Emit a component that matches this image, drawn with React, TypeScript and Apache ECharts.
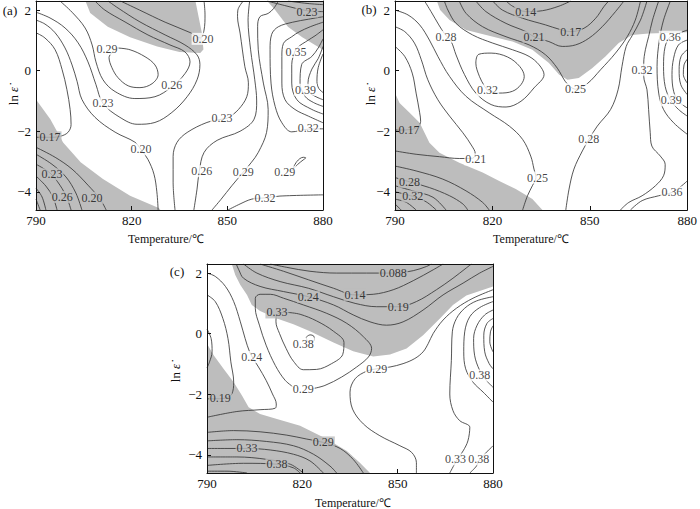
import React, { useEffect, useRef } from "react";
import * as echarts from "echarts";

type Pt = [number, number];
type Lab = [number, number, string];

const T_RANGE: Pt = [790, 880];
const L_RANGE: Pt = [-4.6, 2.3];
const X_TICKS = [790, 820, 850, 880];
const Y_TICKS = [-4, -2, 0, 2];
const X_TITLE = "Temperature/℃";
const Y_TITLE = "ln {e|\u03b5\u0307}";

// ---------- panel (a) ----------
const shadeA: Pt[][] = [
  [[805.5,2.3],[807,1.9],[812.5,1.45],[819.5,1.1],[828,0.8],[835,0.62],[841.5,0.58],[842.5,0.7],[842,1.25],[841,1.77],[840,2.3]],
  [[862.5,2.3],[865,2.0],[869,1.45],[873.5,1.1],[877.5,0.85],[880,0.69],[880,2.3]],
  [[790,-0.95],[794.5,-1.6],[798.5,-2.37],[804,-3.02],[811,-3.58],[819.5,-4.13],[828.5,-4.53],[829,-4.6],[790,-4.6]],
];
const linesA: Pt[][] = [
  [[816.5,2.3],[822.5,2.0],[830.5,1.6],[838.5,1.25],[841.5,1.08],[842.7,1.34],[843,1.84],[842.7,2.3]],
  [[790,1.93],[794.4,1.74],[799.1,1.41],[803.2,0.92],[806.3,0.29],[808.8,-0.46],[811,-1.08],[816.3,-1.54],[821.7,-1.77],[827.3,-1.71],[832.6,-1.38],[837.4,-0.86],[840.5,-0.3],[841.4,0.2],[840.5,0.52],[836.7,0.85],[830.5,1.18],[822.6,1.61],[815.7,2.07],[812.6,2.3]],
  [[797.5,2.3],[801.3,1.93],[805.4,1.41],[807.6,0.85],[808.8,0.29],[811,-0.3],[814.8,-0.69],[821,-0.92],[827.3,-0.86],[832.6,-0.53],[836.7,-0.1],[838.3,0.29],[836.7,0.62],[832,0.85],[825.1,1.18],[817.9,1.61],[811.6,2.0],[808.5,2.3]],
  [[815.4,0.75],[819.5,0.69],[824.2,0.46],[827.3,0.19],[828.3,-0.13],[826.4,-0.43],[822.6,-0.56],[818.9,-0.5],[815.7,-0.23],[813.8,0.1],[812.9,0.43],[815.4,0.75]],
  [[790,1.67],[792.8,1.54],[796,1.25],[799.1,0.75],[801.3,0.19],[802.9,-0.36],[804.4,-0.95],[808.5,-1.54],[814.8,-2.03],[821,-2.36],[822.9,-2.6],[825.1,-2.93],[827,-3.42],[827.9,-4.0],[828.3,-4.6]],
  [[790,1.25],[792.8,1.08],[796,0.69],[798.2,0.03],[799.7,-0.63],[800.7,-1.28],[801,-1.78],[800,-2.04],[797.5,-2.17],[794.4,-2.2],[791.3,-2.2],[790,-2.2]],
  [[790,-2.53],[796,-2.86],[801.3,-3.25],[806.3,-3.78],[810.1,-4.24],[812,-4.6]],
  [[790,-2.76],[795,-3.09],[799.4,-3.51],[802.5,-4.04],[804.4,-4.6]],
  [[790,-3.09],[794.4,-3.38],[797.5,-3.78],[799.7,-4.2],[801,-4.6]],
  [[790,-3.48],[793.1,-3.81],[795.3,-4.17],[796.6,-4.6]],
  [[790,-3.88],[791.9,-4.17],[793.1,-4.6]],
  [[790,-4.24],[791.3,-4.6]],
  [[855,2.3],[853.3,2.0],[853.2,1.78],[854,1.24],[855.5,0.13],[856.6,-0.4],[856.1,-0.86],[853.5,-1.28],[850.3,-1.55],[848.3,-1.6],[843.6,-1.71],[837.4,-2.04],[834.2,-2.37],[833,-2.83],[833,-3.68],[833.6,-4.6]],
  [[857,2.3],[856.5,1.67],[857.3,0.69],[858.6,-0.3],[859.2,-1.0],[858.4,-1.6],[854,-2.0],[846.8,-2.3],[842.7,-2.7],[841.2,-3.32],[840.5,-3.91],[839.5,-4.6]],
  [[866,2.3],[864.5,2.05],[862.8,1.89],[860.2,1.78],[859.5,1.45],[859.7,0.69],[861.3,-0.41],[862.8,-1.28],[862.3,-2.04],[859.7,-2.7],[857.6,-3.02],[855,-3.35],[851.4,-3.8],[848,-4.25],[845.2,-4.6]],
  [[880,1.78],[875.5,1.7],[870.5,1.6],[866,1.45],[863.9,1.2],[863.4,0.69],[863.7,-0.41],[865,-1.18],[867.1,-1.72],[870.2,-2.02],[875.4,-1.93],[880,-1.92]],
  [[880,1.6],[876,1.45],[872.5,1.28],[870.2,1.12],[867.6,0.9],[867.1,0.47],[867.1,-0.41],[868.1,-0.96],[871.2,-1.28],[875.4,-1.5],[880,-1.72]],
  [[880,1.35],[877.5,1.15],[875.4,1.01],[871.8,0.74],[870.6,0.45],[870.2,0.2],[870.2,-0.41],[871.8,-0.96],[876.5,-1.28],[880,-1.43]],
  [[880,1.05],[878.5,0.75],[876.5,0.47],[873.3,0.2],[872.8,-0.41],[874.4,-0.85],[877,-1.05],[880,-1.18]],
  [[880,0.8],[878.5,0.4],[876.5,0.05],[875.3,-0.4],[875.8,-0.72],[877.8,-0.86],[880,-0.96]],
  [[880,0.55],[878.5,0.1],[878.1,-0.36],[878.7,-0.59],[880,-0.72]],
  [[862.5,2.3],[868,2.15],[875,1.98],[880,1.95]],
  [[869,2.3],[875,2.22],[880,2.18]],
  [[850.2,-4.6],[854,-4.4],[857.7,-4.24],[861.8,-4.2],[866.5,-4.14],[880,-4.1]],
  [[870.3,-3.3],[872,-3.1],[874,-2.93],[874.6,-2.88],[873.8,-2.86],[871.8,-3.0],[870.3,-3.3]],
];
const labelsA: Lab[] = [
  [842.4,1.05,"0.20"],[811,-1.08,"0.23"],[832.6,-0.46,"0.26"],[812.3,0.72,"0.29"],
  [822.9,-2.6,"0.20"],[794.4,-2.2,"0.17"],[795,-3.42,"0.23"],[798.2,-4.17,"0.26"],
  [807.6,-4.2,"0.20"],[848.3,-1.55,"0.23"],[842,-3.32,"0.26"],[855,-3.35,"0.29"],
  [868,-3.35,"0.29"],[861.8,-4.2,"0.32"],[875.4,-1.9,"0.32"],[871.5,0.62,"0.35"],
  [874.5,-0.63,"0.39"],[875,1.95,"0.23"],
];

// ---------- panel (b) ----------
const shadeB: Pt[][] = [
  [[802.9,2.3],[803.9,2.0],[806.8,1.67],[811.9,1.34],[819,1.15],[826.2,0.96],[832.3,0.69],[837.4,0.25],[840.5,-0.13],[843.1,-0.3],[846.6,-0.24],[850.7,0.08],[854.8,0.47],[858.9,0.91],[863,1.18],[868.1,1.23],[880,1.27],[880,2.3]],
  [[790,-0.74],[791.4,-1.07],[794.5,-1.39],[797.6,-1.72],[799.1,-2.05],[800.6,-2.38],[803.7,-2.71],[809.8,-3.04],[817,-3.36],[822.1,-3.64],[827.2,-3.91],[832.3,-4.24],[835.4,-4.6],[790,-4.6]],
];
const linesB: Pt[][] = [
  [[790,0.8],[793,0.47],[795.3,-0.08],[796.5,-0.74],[797.6,-1.39],[797.9,-1.67],[797.1,-1.85],[795,-1.94],[791.4,-1.96],[790,-1.96]],
  [[790,1.45],[793,1.29],[796,0.91],[798.1,0.36],[800.1,-0.3],[803.2,-0.96],[806.8,-1.5],[810.9,-2.05],[813.7,-2.49],[814.7,-2.73],[813.9,-2.89],[809.8,-2.9],[803.7,-2.84],[796.5,-2.76],[790,-2.65]],
  [[790,2.0],[794,1.84],[797.6,1.51],[800.6,1.01],[803.2,0.47],[806.8,-0.19],[811.9,-0.85],[819,-1.39],[825.2,-1.83],[829.3,-2.27],[831.8,-2.82],[832.8,-3.25],[833.4,-3.53],[832.3,-3.8],[830.8,-4.13],[829.3,-4.6]],
  [[799.1,2.3],[801.1,1.95],[803.5,1.51],[805.2,1.23],[807.3,0.96],[808.8,0.52],[811.4,-0.13],[814.9,-0.74],[819.6,-1.12],[824.2,-1.2],[828.8,-1.01],[832.8,-0.57],[835.9,-0.13],[834.4,0.19],[831.3,0.47],[826.2,0.69],[820.1,0.91],[813.9,1.18],[808.8,1.56],[806.3,2.0],[805.2,2.3]],
  [[818.5,-0.65],[822.1,-0.74],[826.2,-0.68],[828.8,-0.46],[829.8,-0.19],[828.4,0.14],[824.7,0.45],[819.6,0.58],[815.8,0.54],[814.9,0.25],[816,-0.19],[817.5,-0.5],[818.5,-0.65]],
  [[809.8,2.3],[811.9,1.89],[817,1.45],[824.2,1.12],[831.3,0.85],[836.4,0.52],[840,0.08],[842.4,-0.35],[844.1,-0.54],[845.6,-0.61],[849.2,-0.43],[853.3,0.03],[857.9,0.58],[861.5,1.12],[864,1.67],[865.6,2.3]],
  [[814.9,2.3],[818,1.95],[824.2,1.56],[830.3,1.29],[832.8,1.12],[837.4,0.96],[841.5,0.8],[845.6,0.85],[849.7,1.07],[853.8,1.45],[857.9,1.95],[860.5,2.3]],
  [[820.1,2.3],[823.1,2.0],[829.3,1.73],[836.4,1.51],[840.5,1.37],[844.1,1.29],[848.2,1.4],[851.8,1.73],[854.3,2.11],[855.8,2.3]],
  [[824.2,2.3],[826.2,2.13],[830.3,1.95],[835.4,1.98],[840.5,2.13],[844.1,2.3]],
  [[842.6,-4.6],[843.6,-3.91],[845.1,-3.25],[847.7,-2.65],[849.7,-2.27],[852.3,-1.83],[856.4,-1.28],[858.7,-0.63],[859.9,0.14],[861.2,0.8],[863,1.15],[865.6,1.67],[867.6,2.3]],
  [[871.2,2.3],[869.3,1.67],[868.1,1.12],[867.1,0.69],[866.6,0.25],[866.6,-0.19],[867.6,-0.63],[868.1,-1.28],[868.6,-2.05],[869.1,-2.49],[871.7,-2.82],[873.2,-3.09],[872.7,-3.47],[870.2,-3.8],[866.1,-4.13],[862,-4.35],[859.4,-4.6]],
  [[874.8,2.3],[872.7,1.67],[871.4,1.01],[870.7,0.14],[871.2,-0.74],[872.7,-1.28],[875.8,-1.72],[880,-2.1]],
  [[880,1.34],[877.3,1.23],[874.8,1.12],[873.2,0.8],[872.7,0.14],[873.2,-0.52],[874.8,-0.96],[877.3,-1.28],[880,-1.5]],
  [[880,1.01],[877.3,0.85],[875.8,0.41],[875.3,-0.13],[875.8,-0.68],[877.3,-1.01],[880,-1.23]],
  [[880,0.69],[878.1,0.47],[877.5,0.03],[878,-0.46],[880,-0.79]],
  [[880,0.38],[879,0.19],[878.8,-0.13],[880,-0.41]],
  [[862.5,-4.6],[866.1,-4.29],[871.2,-4.13],[875.3,-4.02],[878.3,-3.8],[880,-3.64]],
  [[790,-3.15],[796.5,-3.31],[804.7,-3.58],[811.9,-3.97],[817,-4.35],[819,-4.6]],
  [[790,-3.53],[794.5,-3.67],[800.6,-3.86],[806.8,-4.13],[810.9,-4.4],[812.4,-4.6]],
  [[790,-3.8],[795.5,-3.97],[801.7,-4.18],[805.7,-4.6]],
  [[790,-4.0],[795.5,-4.15],[799.6,-4.33],[802.7,-4.6]],
  [[790,-4.24],[793.5,-4.35],[796.5,-4.6]],
  [[790,-4.4],[791.9,-4.6]],
];
const labelsB: Lab[] = [
  [794.3,-1.96,"0.17"],[814.9,-2.93,"0.21"],[833.9,-3.53,"0.25"],[805.7,1.12,"0.28"],
  [818.5,-0.65,"0.32"],[845.6,-0.61,"0.25"],[832.8,1.12,"0.21"],[844.1,1.29,"0.17"],
  [830.3,1.95,"0.14"],[849.7,-2.27,"0.28"],[866.1,0.03,"0.32"],[874.8,1.12,"0.36"],
  [875.1,-0.98,"0.39"],[875.3,-4.02,"0.36"],[794.5,-3.67,"0.28"],[795.5,-4.15,"0.32"],
];

// ---------- panel (c) ----------
const shadeC: Pt[][] = [
  [[797.8,2.3],[798.9,1.94],[800.5,1.61],[802.6,1.28],[804.1,0.95],[806.7,0.75],[812,0.5],[817.2,0.31],[822.4,0.08],[829.8,-0.29],[836,-0.58],[842.3,-0.75],[847.6,-0.69],[852.8,-0.49],[858,-0.05],[863.3,0.5],[867.4,0.95],[871.6,1.26],[875.8,1.41],[880,1.56],[880,2.3]],
  [[790,-0.33],[792.1,-0.71],[795.2,-1.16],[798.4,-1.6],[801,-2.04],[803.1,-2.43],[806.7,-2.65],[812,-2.82],[819.3,-3.04],[827.7,-3.48],[834,-3.87],[838.1,-4.26],[841.3,-4.6],[790,-4.6]],
];
const linesC: Pt[][] = [
  [[809.9,2.3],[815.1,2.19],[822.4,2.06],[830.8,2.0],[840.2,2.0],[848.6,2.0],[854.9,2.08],[859.1,2.22],[860.6,2.3]],
  [[806.7,2.3],[814.1,2.06],[821.9,1.78],[829.8,1.5],[836.6,1.28],[842.3,1.3],[848.6,1.45],[854.9,1.75],[861.2,2.11],[864.3,2.3]],
  [[801.5,2.3],[805.7,2.0],[813,1.72],[821.9,1.5],[829.8,1.22],[836.6,1.0],[843.4,0.89],[850.2,0.89],[855.9,1.06],[862.2,1.45],[867.4,1.83],[871.6,2.17],[873.2,2.3]],
  [[799.2,2.3],[800,2.11],[801.5,1.83],[806.7,1.56],[814.1,1.39],[821.9,1.22],[829.8,0.95],[836,0.62],[841.3,0.39],[846.5,0.28],[851.7,0.39],[858,0.78],[864.3,1.28],[870.6,1.67],[875.8,2.0],[880,2.22]],
  [[817.7,-1.8],[814.6,-1.54],[811.5,-1.05],[808.6,-0.38],[806.5,0.28],[805.2,0.84],[805.2,1.17],[806.7,1.3],[809.9,1.3],[814.1,1.17],[820.3,0.95],[827.7,0.67],[834,0.34],[839.2,-0.1],[841.8,-0.49],[840.8,-0.77],[837.1,-1.1],[832.4,-1.43],[827.1,-1.71],[823,-1.82]],
  [[815.6,0.7],[819.3,0.64],[824.5,0.42],[829.8,0.08],[833.1,-0.29],[832.7,-0.69],[829.2,-0.99],[824.5,-1.18],[820.3,-1.19],[817.2,-0.91],[814.9,-0.49],[812.8,0.01],[811.7,0.39],[812,0.62],[813.5,0.7],[815.6,0.7]],
  [[821.2,-0.12],[822.4,-0.04],[823.6,-0.08],[823.8,-0.19],[823,-0.27],[821.7,-0.25],[821.2,-0.12]],
  [[855.9,-4.6],[855.9,-4.26],[854.4,-3.92],[850.7,-3.7],[844.4,-3.37],[839.2,-2.98],[835.8,-2.49],[835,-1.93],[836.6,-1.49],[840.2,-1.24],[843.4,-1.16],[847.6,-1.1],[851.7,-0.99],[855.4,-0.82],[858,-0.6],[859.6,-0.33],[861.2,0.01],[864.3,0.45],[868.5,0.84],[873.7,1.17],[880,1.45]],
  [[880,1.22],[874.8,1.08],[871.1,0.84],[868.5,0.5],[867.2,0.06],[866.9,-0.88],[866.4,-1.99],[867.4,-2.54],[869.5,-2.87],[872.7,-3.09],[872.1,-3.54],[870.6,-3.87],[868.5,-4.2],[866.4,-4.6]],
  [[880,1.06],[875.8,0.86],[872.7,0.56],[871.1,0.06],[870.8,-0.6],[871.4,-1.16],[873.7,-1.6],[876.9,-1.93],[880,-2.26]],
  [[880,0.78],[877.4,0.62],[875,0.28],[873.9,-0.16],[874.2,-0.71],[875.8,-1.21],[877.9,-1.54],[880,-1.77]],
  [[880,0.5],[878.1,0.34],[877.1,-0.05],[877.4,-0.6],[878.8,-0.99],[880,-1.16]],
  [[880,0.26],[879.2,0.06],[879,-0.27],[880,-0.6]],
  [[872.7,-4.6],[874.8,-4.37],[875.8,-4.15],[878.4,-3.87],[880,-3.7]],
  [[790,2.0],[792.6,1.89],[795.8,1.56],[798.4,1.06],[800.5,0.39],[802,-0.16],[803.4,-0.6],[804.7,-0.85],[806.2,-1.1],[808.6,-1.54],[810.6,-1.99],[811.8,-2.32],[811.5,-2.46],[806.7,-2.51],[799.4,-2.57],[790,-2.76]],
  [[790,1.28],[792.6,1.06],[795,0.5],[796.6,-0.16],[797.5,-0.93],[798.4,-1.6],[797.8,-1.99],[795.8,-2.13],[792.1,-2.15],[790,-2.15]],
  [[790,0.15],[791.3,-0.16],[791.6,-0.6],[790.8,-0.93],[790,-1.13]],
  [[790,-3.26],[798.4,-3.2],[806.7,-3.24],[815.1,-3.35],[821.4,-3.48],[826.6,-3.59],[831.9,-3.79],[836,-4.15],[839.2,-4.6]],
  [[790,-3.54],[799.4,-3.5],[808.8,-3.56],[817.2,-3.7],[823.5,-3.98],[828.7,-4.37],[830.8,-4.6]],
  [[790,-3.79],[796.3,-3.79],[802.6,-3.79],[809.9,-3.84],[817.2,-3.98],[822.4,-4.2],[826.6,-4.6]],
  [[790,-4.07],[799.4,-4.07],[808.8,-4.15],[816.2,-4.31],[820.3,-4.6]],
  [[790,-4.35],[801.5,-4.28],[812,-4.31],[817.2,-4.43],[819.3,-4.6]],
  [[790,-4.54],[796.3,-4.54],[802.6,-4.6]],
];
const labelsC: Lab[] = [
  [848.6,2.0,"0.088"],[836.6,1.28,"0.14"],[850.2,0.89,"0.19"],[821.9,1.22,"0.24"],
  [812,0.7,"0.33"],[820.3,-0.33,"0.38"],[820.3,-1.82,"0.29"],[843.4,-1.16,"0.29"],
  [804.1,-0.77,"0.24"],[794.2,-2.13,"0.19"],[826.6,-3.59,"0.29"],[802.6,-3.79,"0.33"],
  [812,-4.31,"0.38"],[868.2,-4.15,"0.33"],[875.5,-4.15,"0.38"],[875.8,-1.38,"0.38"],
];

// ---------- layout ----------
const PANELS = [
  { letter: "(a)", grid: { left: 36, top: 1, width: 287, height: 209 }, letterAt: [10, 10], yTitleAt: [13, 96], xTitleAt: [166, 239], shade: shadeA, lines: linesA, labels: labelsA },
  { letter: "(b)", grid: { left: 395, top: 1, width: 294, height: 209 }, letterAt: [369, 9], yTitleAt: [370, 96], xTitleAt: [531, 239], shade: shadeB, lines: linesB, labels: labelsB },
  { letter: "(c)", grid: { left: 207, top: 264, width: 286, height: 209 }, letterAt: [177, 271], yTitleAt: [175, 373], xTitleAt: [353, 503], shade: shadeC, lines: linesC, labels: labelsC },
];

const GRAY = "#bdbdbd";
const INK = "#111111";
const LINE = "#383838";
const FONT = "Liberation Serif";

function insidePoly(p: Pt, poly: Pt[]): boolean {
  let inside = false;
  for (let i = 0, j = poly.length - 1; i < poly.length; j = i++) {
    const [xi, yi] = poly[i];
    const [xj, yj] = poly[j];
    if ((yi > p[1]) !== (yj > p[1]) && p[0] < ((xj - xi) * (p[1] - yi)) / (yj - yi) + xi) inside = !inside;
  }
  return inside;
}

const fmtY = (v: number) => (v < 0 ? "\u2212" + Math.abs(v) : String(v));

export default function App() {
  const ref = useRef<HTMLDivElement>(null);
  useEffect(() => {
    if (!ref.current) return;
    const chart = echarts.init(ref.current, null, { renderer: "svg" });
    const grid: any[] = [];
    const xAxis: any[] = [];
    const yAxis: any[] = [];
    const series: any[] = [];
    const graphic: any[] = [];
    const axisLine = { show: true, onZero: false, lineStyle: { color: INK, width: 1 } };
    PANELS.forEach((p, i) => {
      grid.push({ ...p.grid, containLabel: false, show: false });
      xAxis.push({
        gridIndex: i, type: "value", min: T_RANGE[0], max: T_RANGE[1], position: "bottom", z: 10,
        axisLine,
        axisTick: { show: true, inside: true, length: 4, customValues: X_TICKS, lineStyle: { color: INK } },
        axisLabel: { customValues: X_TICKS, fontFamily: FONT, fontSize: 13, color: INK, margin: 4 },
        splitLine: { show: false },
      });
      xAxis.push({
        gridIndex: i, type: "value", min: T_RANGE[0], max: T_RANGE[1], position: "top", z: 10,
        axisLine, axisTick: { show: false }, axisLabel: { show: false }, splitLine: { show: false },
      });
      yAxis.push({
        gridIndex: i, type: "value", min: L_RANGE[0], max: L_RANGE[1], position: "left", z: 10,
        axisLine,
        axisTick: { show: true, inside: true, length: 4, customValues: Y_TICKS, lineStyle: { color: INK } },
        axisLabel: { customValues: Y_TICKS, fontFamily: FONT, fontSize: 13, color: INK, margin: 5, formatter: fmtY },
        splitLine: { show: false },
      });
      yAxis.push({
        gridIndex: i, type: "value", min: L_RANGE[0], max: L_RANGE[1], position: "right", z: 10,
        axisLine, axisTick: { show: false }, axisLabel: { show: false }, splitLine: { show: false },
      });
      const xi = 2 * i;
      const yi = 2 * i;
      const polys = p.shade;
      series.push({
        type: "custom", xAxisIndex: xi, yAxisIndex: yi, silent: true, z: 1, clip: true,
        data: polys.map((poly) => poly[0]),
        renderItem: (params: any, api: any) => ({
          type: "polygon",
          shape: { points: polys[params.dataIndex].map((pt) => api.coord(pt)) },
          style: { fill: GRAY, stroke: "none" },
        }),
      });
      p.lines.forEach((ln) => {
        series.push({
          type: "line", xAxisIndex: xi, yAxisIndex: yi, data: ln, smooth: 0.35, symbol: "none",
          showSymbol: false, silent: true, z: 3, clip: true,
          lineStyle: { color: LINE, width: 0.85 },
        });
      });
      series.push({
        type: "scatter", xAxisIndex: xi, yAxisIndex: yi, symbolSize: 1, silent: true, z: 5,
        itemStyle: { color: "rgba(0,0,0,0)" },
        label: {
          show: true, position: "inside", formatter: "{b}", fontFamily: FONT, fontSize: 12,
          color: INK, textBorderWidth: 0, padding: [0, 1], lineHeight: 12,
        },
        data: p.labels.map(([t, l, txt]) => ({
          value: [t, l],
          name: txt,
          label: { backgroundColor: polys.some((poly) => insidePoly([t, l], poly)) ? GRAY : "#ffffff" },
        })),
      });
      graphic.push({
        type: "text", x: p.letterAt[0], y: p.letterAt[1], z: 20,
        style: { text: p.letter, fontSize: 13, fontFamily: FONT, fill: INK, align: "center", verticalAlign: "middle", textAlign: "center", textVerticalAlign: "middle" },
      });
      graphic.push({
        type: "text", x: p.xTitleAt[0], y: p.xTitleAt[1], z: 20,
        style: { text: X_TITLE, fontSize: 12, fontFamily: FONT, fill: INK, align: "center", verticalAlign: "middle", textAlign: "center", textVerticalAlign: "middle" },
      });
      graphic.push({
        type: "text", x: p.yTitleAt[0], y: p.yTitleAt[1], rotation: Math.PI / 2, z: 20,
        style: {
          text: Y_TITLE, fontSize: 13, fontFamily: FONT, fill: INK, align: "center", verticalAlign: "middle",
          textAlign: "center", textVerticalAlign: "middle",
          rich: { e: { fontStyle: "italic", fontSize: 13, fontFamily: FONT, fill: INK } },
        },
      });
    });
    chart.setOption({ animation: false, backgroundColor: "#ffffff", grid, xAxis, yAxis, series, graphic });
    return () => chart.dispose();
  }, []);
  return (
    <div
      ref={ref}
      style={{ position: "absolute", left: 0, top: 0, width: 700, height: 509, background: "#fff" }}
    />
  );
}
